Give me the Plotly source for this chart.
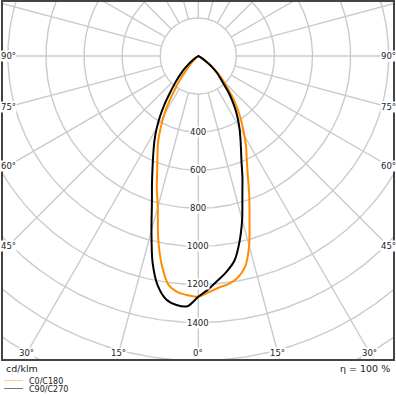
import numpy as np
import plotly.graph_objects as go

# ---------------- data (cd/klm) ----------------
gamma = [0, 2.5, 5, 7.5, 10, 12.5, 15, 17.5, 20, 22.5, 25, 27.5, 30, 32.5, 35, 37.5,
         40, 42.5, 45, 47.5, 50, 52.5, 55, 57.5, 60, 65, 70, 75, 80, 85, 90]
c0 = [1265, 1243, 1222, 1209, 1184, 1135, 1032, 895, 783, 680, 603, 545, 485, 430, 378, 326,
      276, 226, 188, 151, 114, 80, 52, 30, 15, 5, 2, 0, 0, 0, 0]
c180 = [1265, 1258, 1245, 1210, 1110, 975, 822, 725, 630, 560, 500, 430, 362, 285, 215, 158,
        105, 70, 40, 20, 8, 3, 0, 0, 0, 0, 0, 0, 0, 0, 0]
c90 = [1265, 1226, 1183, 1142, 1092, 1000, 890, 770, 678, 592, 530, 478, 431, 384, 337, 290,
       242, 194, 162, 138, 109, 78, 50, 28, 12, 4, 0, 0, 0, 0, 0]
c270 = [1265, 1316, 1313, 1290, 1225, 1110, 950, 810, 711, 627, 558, 498, 436, 372, 308, 245,
        198, 160, 125, 95, 68, 45, 25, 12, 5, 0, 0, 0, 0, 0, 0]

ring_values = [200, 400, 600, 800, 1000, 1200, 1400, 1600, 1800, 2000]
ring_labels = [400, 600, 800, 1000, 1200, 1400]
spoke_angles = list(range(0, 360, 15))
bottom_angle_labels = [-30, -15, 0, 15, 30]
side_angle_labels = [45, 60, 75, 90]
series_names = ["C0/C180", "C90/C270"]
series_colors = ["#ff8c00", "#000000"]
unit_text = "cd/klm"
eta_text = "η = 100 %"

# ---------------- geometry ----------------
W, H = 396, 396
L, R, T, B = 2, 2, 1, 36
XR = [-1031, 1028]
YR = [-1597, 289]
FONT = "DejaVu Sans"


def px_to_paper(px, py):
    return (px - L) / (W - L - R), (H - B - py) / (H - T - B)


def curve_xy(right, left):
    g = np.radians(np.array(gamma, dtype=float))
    r_r = np.array(right, dtype=float)
    r_l = np.array(left, dtype=float)
    xl = -r_l * np.sin(g)
    yl = -r_l * np.cos(g)
    xr = r_r * np.sin(g)
    yr = -r_r * np.cos(g)
    x = np.concatenate([xl[::-1], xr[1:]])
    y = np.concatenate([yl[::-1], yr[1:]])
    return x, y


fig = go.Figure()

# rings
t = np.linspace(0, 2 * np.pi, 721)
gx, gy = [], []
for rv in ring_values:
    gx += list(rv * np.sin(t)) + [None]
    gy += list(-rv * np.cos(t)) + [None]
# spokes
for a in spoke_angles:
    ar = np.radians(a)
    gx += [ring_values[0] * np.sin(ar), 3000 * np.sin(ar), None]
    gy += [-ring_values[0] * np.cos(ar), -3000 * np.cos(ar), None]
fig.add_trace(go.Scatter(x=gx, y=gy, mode="lines",
                         line=dict(color="#cbcbcb", width=1.4),
                         hoverinfo="skip", showlegend=False))

# curves
for (right, left), name, col in zip([(c0, c180), (c90, c270)], series_names, series_colors):
    x, y = curve_xy(right, left)
    fig.add_trace(go.Scatter(x=x, y=y, mode="lines", name=name,
                             line=dict(color=col, width=2, shape="spline", smoothing=0.8),
                             showlegend=False))

ann = []
# radial labels
for rv in ring_labels:
    ann.append(dict(x=0, y=-rv, xref="x", yref="y", text=str(rv), showarrow=False,
                    font=dict(family=FONT, size=8.5, color="#222"),
                    bgcolor="white", borderpad=0, xanchor="center", yanchor="middle"))
# bottom angle labels
yb = 1560
for a in bottom_angle_labels:
    ann.append(dict(x=yb * np.tan(np.radians(a)), y=-yb, xref="x", yref="y",
                    text=f"{abs(a)}°", showarrow=False,
                    font=dict(family=FONT, size=8.5, color="#222"),
                    bgcolor="white", borderpad=0, xanchor="center", yanchor="middle"))
# side angle labels
xs = 999
for a in side_angle_labels:
    ar = np.radians(a)
    for sgn in (-1, 1):
        ann.append(dict(x=sgn * xs, y=-xs * np.cos(ar) / np.sin(ar), xref="x", yref="y",
                        text=f"{a}°", showarrow=False,
                        font=dict(family=FONT, size=8.5, color="#222"),
                        bgcolor="white", borderpad=0, xanchor="center", yanchor="middle"))

# texts under the plot
px, py = px_to_paper(4, 368)
ann.append(dict(x=px, y=py, xref="paper", yref="paper", text=unit_text, showarrow=False,
                font=dict(family=FONT, size=9.5, color="#222"), xanchor="left", yanchor="middle"))
px, py = px_to_paper(392, 368)
ann.append(dict(x=px, y=py, xref="paper", yref="paper", text=eta_text, showarrow=False,
                font=dict(family=FONT, size=9.5, color="#222"), xanchor="right", yanchor="middle"))

shapes = []
legend_rows = [380.5, 388.5]
legend_line_cols = ["rgba(255,140,0,0.45)", "#777777"]
for name, yy, lc in zip(series_names, legend_rows, legend_line_cols):
    x0, y0 = px_to_paper(4, yy)
    x1, _ = px_to_paper(23, yy)
    shapes.append(dict(type="line", xref="paper", yref="paper", x0=x0, x1=x1, y0=y0, y1=y0,
                       line=dict(color=lc, width=1)))
    tx, ty = px_to_paper(27, yy + 0.5)
    ann.append(dict(x=tx, y=ty, xref="paper", yref="paper", text=name, showarrow=False,
                    font=dict(family=FONT, size=8, color="#222"), xanchor="left", yanchor="middle"))

# frame
shapes.append(dict(type="rect", xref="paper", yref="paper", x0=0, x1=1, y0=0, y1=1,
                   line=dict(color="#444444", width=2), layer="above"))

fig.update_layout(
    width=W, height=H,
    margin=dict(l=L, r=R, t=T, b=B, pad=0),
    paper_bgcolor="white", plot_bgcolor="white",
    xaxis=dict(range=XR, visible=False, fixedrange=True),
    yaxis=dict(range=YR, visible=False, fixedrange=True),
    annotations=ann, shapes=shapes, showlegend=False,
    font=dict(family=FONT),
)

fig.write_html("out.html", config={"displayModeBar": False},
               post_script="document.body.style.margin='0';document.body.style.overflow='hidden';")
